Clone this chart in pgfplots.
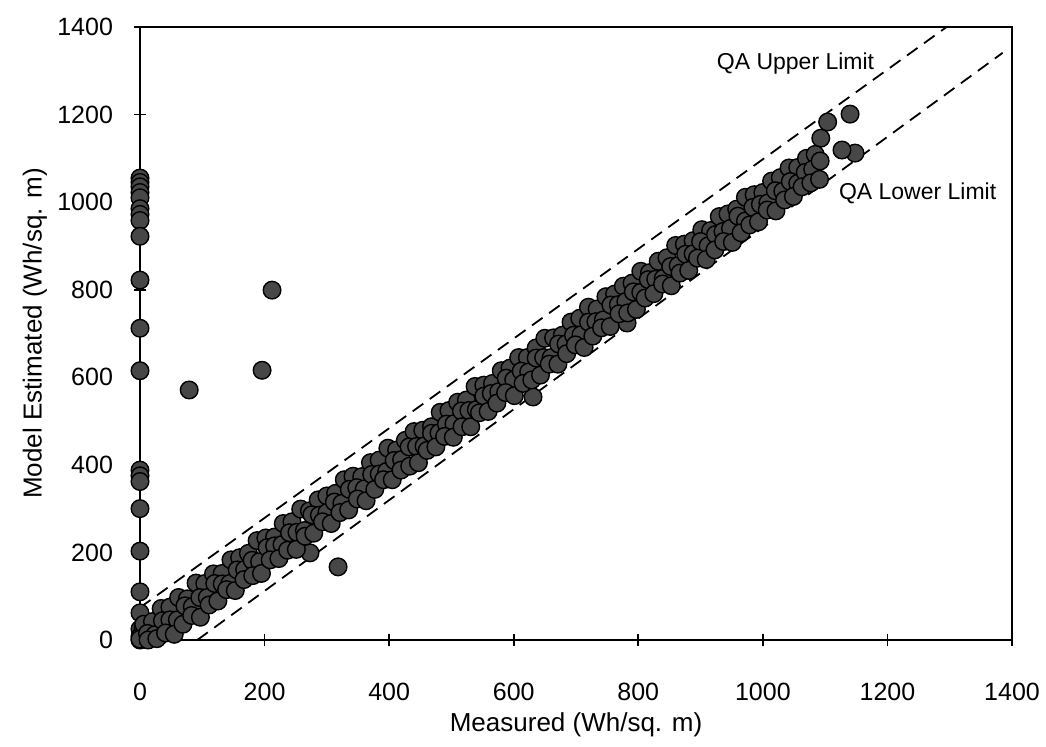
\documentclass[border=0pt]{standalone}
\usepackage{pgfplots}
\pgfplotsset{compat=1.18}
\usepackage{fontspec}
\setmainfont{Liberation Sans}
\newcommand{\tickfont}{\fontsize{12.5}{15}\selectfont}
\begin{document}
\begin{tikzpicture}
\begin{axis}[
  scale only axis, width=436pt, height=306.5pt,
  xmin=0, xmax=1400, ymin=0, ymax=1400,
  xtick={0,200,...,1400}, ytick={0,200,...,1400},
  tick align=center, major tick length=6pt,
  xtick pos=left, ytick pos=left,
  axis line style={line width=1.2pt},
  tick style={line width=0.8pt, black},
  /pgf/number format/assume math mode=true,
  /pgf/number format/1000 sep={},
  xticklabel={\tickfont\pgfmathprintnumber[assume math mode=true,1000 sep={}]{\tick}},
  yticklabel={\tickfont\pgfmathprintnumber[assume math mode=true,1000 sep={}]{\tick}},
  xticklabel style={yshift=-15pt},
  yticklabel style={xshift=-7pt},
  xlabel={Measured (Wh/sq. m)},
  ylabel={Model Estimated (Wh/sq. m)},
  xlabel style={font=\fontsize{13}{15}\selectfont, at={(axis description cs:0.5,0)}, anchor=center, yshift=-42.5pt},
  ylabel style={font=\fontsize{13}{15}\selectfont, at={(axis description cs:0,0.5)}, anchor=center, yshift=52.5pt},
  clip=false,
]
% QA limits
\addplot[black, line width=0.9pt, dash pattern=on 6.5pt off 4pt] coordinates {(0,74) (1295,1400)};
\addplot[black, line width=0.9pt, dash pattern=on 6.5pt off 4pt] coordinates {(92,0) (1385,1341)};
% data
\addplot[only marks, mark=*, mark size=4.4pt, mark options={fill=black!72, draw=black, line width=0.7pt}] coordinates {
% y axis column
(0,1055) (0,1045) (0,1035) (0,1022) (0,1010) (0,985) (0,972) (0,958) (0,922) (0,822) (0,712) (0,615)
(0,388) (0,375) (0,362) (0,300) (0,203) (0,110) (0,62) (0,25) (0,8)
% outliers
(79,571) (196,616) (212,799) (318,167)
(1140,1201) (1104,1183) (1093,1146) (1148,1112) (1127,1119)
(273,199) (631,555) (782,724)
% origin cluster
(0,0) (8,12) (18,5) (25,20) (5,30) (30,8)
% upper row
(6,36) (20,42) (34,72) (48,75) (62,97) (76,94) (90,130) (104,129) (118,151) (132,152)
(146,183) (160,188) (174,198) (188,227) (202,233) (216,235) (230,266) (244,270) (258,299) (272,295)
(286,320) (300,329) (314,335) (328,366) (342,374) (356,373) (370,405) (384,411) (398,438) (412,434)
(426,456) (440,476) (454,479) (468,487) (482,520) (496,524) (510,543) (524,548) (538,579) (552,582)
(566,586) (580,615) (594,621) (608,645) (622,645) (636,667) (650,689) (664,690) (678,696) (692,726)
(706,735) (720,760) (734,756) (748,784) (762,790) (776,808) (790,815) (804,842) (818,839) (832,865)
(846,873) (860,901) (874,904) (888,912) (902,937) (916,935) (930,967) (944,973) (958,984) (972,1011)
(986,1017) (1000,1022) (1014,1048) (1028,1056) (1042,1078) (1056,1079) (1070,1100) (1084,1109)
% middle row
(0,2) (12,15) (24,12) (36,44) (48,46) (60,46) (72,78) (84,76) (96,97) (108,97)
(120,129) (132,128) (144,129) (156,160) (168,161) (180,182) (192,179) (204,211) (216,215) (228,218)
(240,245) (252,246) (264,250) (276,286) (288,285) (300,291) (312,315) (324,312) (336,344) (348,348)
(360,345) (372,378) (384,379) (396,385) (408,410) (420,412) (432,441) (444,442) (456,443) (468,472)
(480,473) (492,493) (504,494) (516,523) (528,524) (540,526) (552,557) (564,563) (576,567) (588,598)
(600,594) (612,614) (624,612) (636,644) (648,645) (660,645) (672,676) (684,676) (696,696) (708,697)
(720,726) (732,727) (744,731) (756,765) (768,766) (780,773) (792,795) (804,794) (816,823) (828,824)
(840,826) (852,853) (864,855) (876,881) (888,882) (900,910) (912,900) (924,926) (936,933) (948,940)
(960,968) (972,957) (984,988) (996,995) (1008,998) (1020,1026) (1032,1025) (1044,1047) (1056,1043) (1068,1068)
(1080,1075) (1092,1094)
% lower row
(13,0) (27,3) (41,16) (55,13) (69,36) (83,56) (97,52) (111,80) (125,89) (139,115)
(153,113) (167,138) (181,147) (195,152) (209,183) (223,186) (237,205) (251,207) (265,237) (279,244)
(293,270) (307,266) (321,291) (335,297) (349,322) (363,318) (377,344) (391,366) (405,366) (419,388)
(433,397) (447,405) (461,433) (475,441) (489,465) (503,463) (517,487) (531,487) (545,519) (559,522)
(573,541) (587,565) (601,558) (615,586) (629,594) (643,605) (657,630) (671,630) (685,654) (699,674)
(713,668) (727,694) (741,713) (755,716) (769,745) (783,747) (797,755) (811,781) (825,791) (839,813)
(853,809) (867,838) (881,844) (895,872) (909,869) (923,891) (937,910) (951,908) (965,930) (979,948)
(993,955) (1007,982) (1021,980) (1035,1005) (1049,1013) (1063,1035) (1077,1044) (1091,1052)
};
\node[anchor=east, font=\fontsize{11.5}{13}\selectfont] at (axis cs:1190,1317) {QA Upper Limit};
\node[anchor=east, font=\fontsize{11.5}{13}\selectfont] at (axis cs:1386,1021) {QA Lower Limit};
\end{axis}
\pgfresetboundingbox
\path[use as bounding box] ([shift={(-70pt,-53.5pt)}]current axis.south west) rectangle ([shift={(17pt,13.5pt)}]current axis.north east);
\end{tikzpicture}
\end{document}
